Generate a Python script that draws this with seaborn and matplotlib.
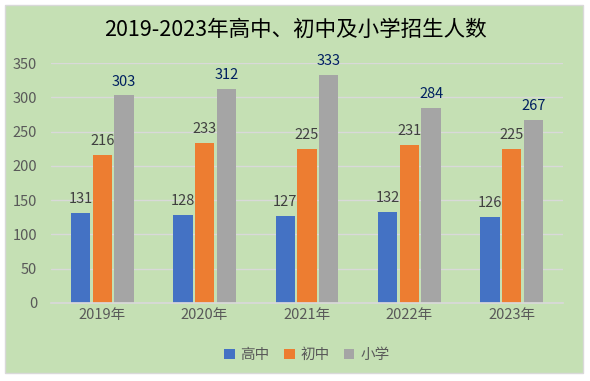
import matplotlib
matplotlib.use("Agg")
import matplotlib.pyplot as plt
import seaborn as sns
import pandas as pd
from matplotlib.patches import Rectangle

years = ["2019年", "2020年", "2021年", "2022年", "2023年"]
series = ["高中", "初中", "小学"]
gaozhong = [131, 128, 127, 132, 126]
chuzhong = [216, 233, 225, 231, 225]
xiaoxue = [303, 312, 333, 284, 267]
yticks = [0, 50, 100, 150, 200, 250, 300, 350]
title = "2019-2023年高中、初中及小学招生人数"

colors = ["#4472C4", "#ED7D31", "#A5A5A5"]
label_colors = ["#404040", "#404040", "#002060"]
bg = "#C5E0B4"

rows = []
for name, vals in zip(series, [gaozhong, chuzhong, xiaoxue]):
    for y, v in zip(years, vals):
        rows.append({"year": y, "series": name, "value": v})
df = pd.DataFrame(rows)

sns.set_theme(style="white")
plt.rcParams["font.family"] = ["Noto Sans CJK SC", "DejaVu Sans"]

fig = plt.figure(figsize=(5.9, 3.81), dpi=100)
fig.patch.set_facecolor("white")
fig.patches.append(Rectangle((5 / 590, 1 - 373 / 381), 578 / 590, 368 / 381,
                             transform=fig.transFigure, facecolor=bg,
                             edgecolor="#D9D9D9", linewidth=1, zorder=-10))

ax = fig.add_axes([51 / 590, 1 - 302.7 / 381, 512 / 590, 239.4 / 381])
ax.set_facecolor("none")
ax.patch.set_alpha(0)
sns.barplot(data=df, x="year", y="value", hue="series", palette=colors,
            width=0.636, gap=0.11, ax=ax, saturation=1, legend=True,
            edgecolor="none", linewidth=0)

for i, cont in enumerate(ax.containers):
    ax.bar_label(cont, padding=5, color=label_colors[i], fontsize=10.5)

ax.set_ylim(0, 350)
ax.set_yticks(yticks)
ax.set_yticklabels([str(t) for t in yticks])
ax.set_xlim(-0.5, len(years) - 0.5)
ax.grid(axis="y", color="#D9D9D9", linewidth=1)
ax.set_axisbelow(True)
for s in ["top", "right", "left"]:
    ax.spines[s].set_visible(False)
ax.spines["bottom"].set_color("#D9D9D9")
ax.tick_params(axis="both", colors="#595959", labelsize=10.5, length=0)
ax.tick_params(axis="y", pad=10)
ax.set_xlabel("")
ax.set_ylabel("")

leg = ax.legend(loc="center", bbox_to_anchor=(0.5, -0.22), ncol=3, frameon=False,
                handlelength=0.7, handleheight=0.7, handletextpad=0.4,
                columnspacing=1.0, fontsize=10.5)
for t in leg.get_texts():
    t.set_color("#595959")

fig.text(0.5, 1 - 30 / 381, title, ha="center", va="center", fontsize=15.5, color="black")

fig.savefig("out.png", dpi=100)
